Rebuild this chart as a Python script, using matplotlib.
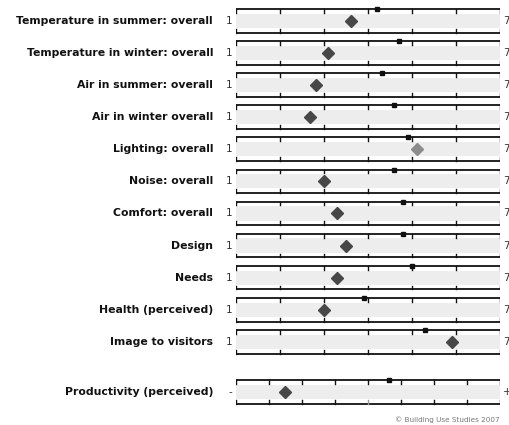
import matplotlib
matplotlib.use("Agg")
import matplotlib.pyplot as plt

# Row labels (top to bottom)
labels = [
    "Temperature in summer: overall",
    "Temperature in winter: overall",
    "Air in summer: overall",
    "Air in winter overall",
    "Lighting: overall",
    "Noise: overall",
    "Comfort: overall",
    "Design",
    "Needs",
    "Health (perceived)",
    "Image to visitors",
]
# building score (diamond) and benchmark (small square) on the 1-7 scale
scores = [3.61, 3.1, 2.81, 2.68, 5.11, 3.0, 3.3, 3.5, 3.3, 3.0, 5.9]
benchmarks = [4.2, 4.7, 4.31, 4.6, 4.9, 4.6, 4.8, 4.8, 5.0, 3.9, 5.3]
diamond_colors = ["#474747"] * 4 + ["#8c8c8c"] + ["#474747"] * 6

# productivity row, percent scale
prod_label = "Productivity (perceived)"
prod_score = -25.3
prod_benchmark = 6.5
prod_ticks = [-40, -30, -20, -10, 0, 10, 20, 30, 40]

W, H = 510, 425
fig = plt.figure(figsize=(W / 100, H / 100), dpi=100)

LINE_OFF = 0.37
BAND = 0.22
TICK = 0.12


def draw_row(ax, y, ticks, lo, hi, zero_gray=None):
    ax.fill_between([lo, hi], y - BAND, y + BAND, color="#ededed", lw=0, zorder=0)
    for yl, d in ((y - LINE_OFF, TICK), (y + LINE_OFF, -TICK)):
        ax.plot([lo, hi], [yl, yl], color="#111111", lw=1.3, zorder=2,
                solid_capstyle="butt")
        for t in ticks:
            c = "#111111"
            if d < 0 and zero_gray is not None and t == zero_gray:
                c = "#999999"
            ax.plot([t, t], [yl, yl + d], color=c, lw=1.0, zorder=2)


def label_row(ax, y, text, left, right):
    ax.text(-0.087, y, text, transform=ax.get_yaxis_transform(), ha="right",
            va="center", fontsize=7.8, fontweight="bold", color="#111111")
    ax.text(-0.015, y, left, transform=ax.get_yaxis_transform(), ha="right",
            va="center", fontsize=7.5, color="#333333")
    ax.text(1.01, y, right, transform=ax.get_yaxis_transform(), ha="left",
            va="center", fontsize=7.5, color="#333333")


# main rows
x0, x1 = 236 / W, 500 / W
top_px = 5
bot_px = top_px + 11 * 32.07
ax = fig.add_axes([x0, 1 - bot_px / H, x1 - x0, (bot_px - top_px) / H])
ax.set_xlim(1, 7)
ax.set_ylim(10.5, -0.5)
ax.axis("off")

for i, lab in enumerate(labels):
    draw_row(ax, i, range(1, 8), 1, 7)
    label_row(ax, i, lab, "1", "7")
    ax.plot(benchmarks[i], i - LINE_OFF, marker="s", ms=3.2, color="#111111",
            zorder=3, clip_on=False)
    ax.plot(scores[i], i, marker="D", ms=6.5, color=diamond_colors[i],
            mec=diamond_colors[i], zorder=3)

# productivity row
pc = 392
ax2 = fig.add_axes([x0, 1 - (pc + 16) / H, x1 - x0, 32 / H])
ax2.set_xlim(-40, 40)
ax2.set_ylim(0.5, -0.5)
ax2.axis("off")
draw_row(ax2, 0, prod_ticks, -40, 40, zero_gray=0)
label_row(ax2, 0, prod_label, "-", "+")
ax2.plot(prod_benchmark, -LINE_OFF, marker="s", ms=3.2, color="#111111",
         zorder=3, clip_on=False)
ax2.plot(prod_score, 0, marker="D", ms=6.5, color="#474747", zorder=3)

fig.text(500 / W, 1 - 420 / H, "\u00a9 Building Use Studies 2007", ha="right",
         va="center", fontsize=5.2, color="#777777")

fig.savefig("out.png", dpi=100)
